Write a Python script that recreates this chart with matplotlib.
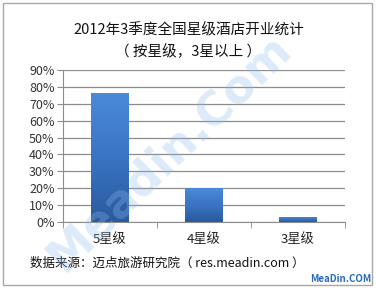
import numpy as np
import matplotlib
matplotlib.use("Agg")
import matplotlib.pyplot as plt
from matplotlib.patches import Rectangle
from matplotlib.colors import LinearSegmentedColormap

plt.rcParams['font.family'] = ['Noto Sans CJK SC', 'DejaVu Sans']

# Datos
categorias = ['5星级', '4星级', '3星级']
porcentajes = [76.5, 20.0, 3.0]
ticks_y = [0, 10, 20, 30, 40, 50, 60, 70, 80, 90]

fig = plt.figure(figsize=(3.77, 2.88), dpi=100)
fig.patch.set_facecolor('white')

# Marco exterior
fig.patches.append(Rectangle((0.008, 0.01), 0.98, 0.98, transform=fig.transFigure,
                             fill=False, edgecolor='#a8a8a8', linewidth=1.0))

ax = fig.add_axes([0.167, 0.229, 0.748, 0.528])
x = np.arange(len(categorias))
barras = ax.bar(x, porcentajes, width=0.4, color='#3a72c0', zorder=2)

# Degradado en las barras
cmap = LinearSegmentedColormap.from_list('azul', ['#4a8ad6', '#3a74c4', '#2a5a9e'])
grad = np.linspace(0, 1, 100).reshape(-1, 1)
for b in barras:
    bx, by, bw, bh = b.get_x(), b.get_y(), b.get_width(), b.get_height()
    im = ax.imshow(grad, cmap=cmap, extent=[bx, bx + bw, by, by + bh],
                   aspect='auto', origin='upper', zorder=3)
    im.set_clip_path(b)

ax.set_xlim(-0.5, 2.5)
ax.set_ylim(0, 90)
ax.set_yticks(ticks_y)
ax.set_yticklabels([f'{t}%' for t in ticks_y], fontsize=9, color='#333333')
ax.yaxis.grid(True, color='#8c8c8c', linewidth=0.9, zorder=0)
ax.set_axisbelow(True)
ax.tick_params(axis='y', length=4, color='#8c8c8c', pad=2)

ax.set_xticks(x)
ax.set_xticklabels(categorias, fontsize=9.5, color='#222222')
ax.set_xticks([-0.5, 0.5, 1.5, 2.5], minor=True)
ax.tick_params(axis='x', which='major', length=0, pad=8)
ax.tick_params(axis='x', which='minor', length=4, color='#8c8c8c')

for lado in ['top', 'right']:
    ax.spines[lado].set_visible(False)
ax.spines['left'].set_color('#8c8c8c')
ax.spines['bottom'].set_color('#8c8c8c')

# Títulos
fig.text(0.5, 0.895, '2012年3季度全国星级酒店开业统计', ha='center', va='center',
         fontsize=10.5, color='#111111')
fig.text(0.5, 0.82, '（ 按星级，3星以上 ）', ha='center', va='center',
         fontsize=10.5, color='#111111')

# Fuente de datos
fig.text(0.08, 0.087, '数据来源：迈点旅游研究院（ res.meadin.com ）', ha='left', va='center',
         fontsize=9, color='#111111')
fig.text(0.985, 0.03, 'MeaDin.COM', ha='right', va='center', fontsize=7,
         fontweight='bold', color='#2a6bbf')

# Marca de agua
fig.text(0.45, 0.47, 'Meadin.Com', ha='center', va='center', rotation=44,
         fontsize=33, fontweight='bold', color='#8dbbef', alpha=0.3,
         family='DejaVu Sans', zorder=10)

fig.savefig('out.png', dpi=100)
